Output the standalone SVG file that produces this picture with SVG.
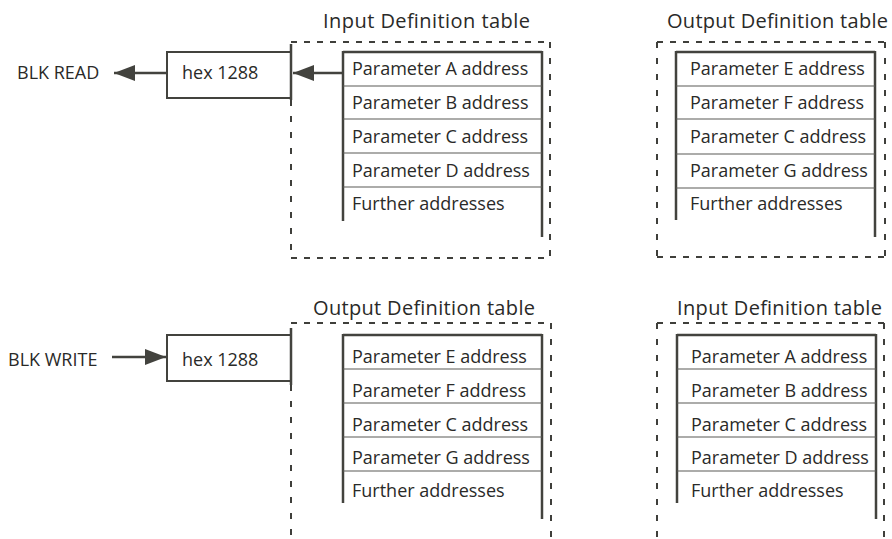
<svg xmlns="http://www.w3.org/2000/svg" width="892" height="539" viewBox="0 0 892 539">
<style>
text{font-family:"Open Sans","Liberation Sans",sans-serif;font-size:18px;fill:#2a2a28}
.title{font-size:20px}
.dh{fill:none;stroke:#3f3f3b;stroke-width:2;stroke-dasharray:6 7}
.dv{fill:none;stroke:#3f3f3b;stroke-width:2;stroke-dasharray:6 10}
.thick{fill:none;stroke:#43433e;stroke-width:2.5}
.row{fill:none;stroke:#5a5a56;stroke-width:1.2}
.box{fill:#fff;stroke:#43433e;stroke-width:2}
.conn{fill:none;stroke:#43433e;stroke-width:2.5}
</style>
<defs>
<marker id="ah" markerUnits="userSpaceOnUse" markerWidth="22" markerHeight="16" refX="21" refY="8" orient="auto">
<path d="M0,0 L21,8 L0,16 Z" fill="#43433e"/>
</marker>
</defs>

<g id="connectors">
<line class="conn" x1="167" y1="73" x2="114" y2="73" marker-end="url(#ah)"/>
<line class="conn" x1="343" y1="73" x2="293" y2="73" marker-end="url(#ah)"/>
<line class="conn" x1="112" y1="357" x2="166" y2="357" marker-end="url(#ah)"/>
</g>

<g id="blk-read">
<text x="17" y="79">BLK READ</text>
</g>
<g id="blk-write">
<text x="8" y="366">BLK WRITE</text>
</g>

<g id="hex-read">
<rect class="box" x="167" y="52" width="124" height="46"/>
<line class="thick" x1="291" y1="44" x2="291" y2="100"/>
<text x="182" y="79">hex 1288</text>
</g>
<g id="hex-write">
<rect class="box" x="167" y="335" width="124" height="46"/>
<line class="thick" x1="291" y1="328" x2="291" y2="385"/>
<text x="182" y="366">hex 1288</text>
</g>

<g id="input-table-1">
<text class="title" x="323" y="28" textLength="207">Input Definition table</text>
<line class="dh" x1="291" y1="42" x2="550" y2="42"/>
<line class="dh" x1="291" y1="258" x2="550" y2="258"/>
<line class="dv" x1="291" y1="100" x2="291" y2="258"/>
<line class="dv" x1="550" y1="42" x2="550" y2="258"/>
<line class="thick" x1="343" y1="52" x2="542" y2="52"/>
<line class="thick" x1="343" y1="51" x2="343" y2="221"/>
<line class="thick" x1="542" y1="51" x2="542" y2="237"/>
<line class="row" x1="343" y1="86" x2="542" y2="86"/>
<line class="row" x1="343" y1="119" x2="542" y2="119"/>
<line class="row" x1="343" y1="153" x2="542" y2="153"/>
<line class="row" x1="343" y1="187" x2="542" y2="187"/>
<text x="352" y="75">Parameter A address</text>
<text x="352" y="109">Parameter B address</text>
<text x="352" y="143">Parameter C address</text>
<text x="352" y="177">Parameter D address</text>
<text x="352" y="210">Further addresses</text>
</g>

<g id="output-table-1">
<text class="title" x="667" y="28" textLength="221">Output Definition table</text>
<line class="dh" x1="657" y1="42" x2="885" y2="42"/>
<line class="dh" x1="657" y1="257" x2="885" y2="257"/>
<line class="dv" x1="657" y1="42" x2="657" y2="257"/>
<line class="dv" x1="885" y1="42" x2="885" y2="257"/>
<line class="thick" x1="676" y1="52" x2="875" y2="52"/>
<line class="thick" x1="676" y1="51" x2="676" y2="220"/>
<line class="thick" x1="875" y1="51" x2="875" y2="237"/>
<line class="row" x1="676" y1="86" x2="875" y2="86"/>
<line class="row" x1="676" y1="119" x2="875" y2="119"/>
<line class="row" x1="676" y1="154" x2="875" y2="154"/>
<line class="row" x1="676" y1="188" x2="875" y2="188"/>
<text x="690" y="75">Parameter E address</text>
<text x="690" y="109">Parameter F address</text>
<text x="690" y="143">Parameter C address</text>
<text x="690" y="177">Parameter G address</text>
<text x="690" y="210">Further addresses</text>
</g>

<g id="output-table-2">
<text class="title" x="313" y="315" textLength="222">Output Definition table</text>
<line class="dh" x1="291" y1="323" x2="551" y2="323"/>
<line class="dv" x1="291" y1="385" x2="291" y2="539"/>
<line class="dv" x1="551" y1="323" x2="551" y2="539"/>
<line class="thick" x1="343" y1="335" x2="542" y2="335"/>
<line class="thick" x1="343" y1="334" x2="343" y2="503"/>
<line class="thick" x1="542" y1="334" x2="542" y2="519"/>
<line class="row" x1="343" y1="369" x2="542" y2="369"/>
<line class="row" x1="343" y1="403" x2="542" y2="403"/>
<line class="row" x1="343" y1="437" x2="542" y2="437"/>
<line class="row" x1="343" y1="471" x2="542" y2="471"/>
<text x="352" y="363">Parameter E address</text>
<text x="352" y="397">Parameter F address</text>
<text x="352" y="431">Parameter C address</text>
<text x="352" y="464">Parameter G address</text>
<text x="352" y="497">Further addresses</text>
</g>

<g id="input-table-2">
<text class="title" x="677" y="315" textLength="205">Input Definition table</text>
<line class="dh" x1="657" y1="323" x2="884" y2="323"/>
<line class="dv" x1="657" y1="323" x2="657" y2="539"/>
<line class="dv" x1="884" y1="323" x2="884" y2="539"/>
<line class="thick" x1="677" y1="335" x2="876" y2="335"/>
<line class="thick" x1="677" y1="334" x2="677" y2="503"/>
<line class="thick" x1="876" y1="334" x2="876" y2="519"/>
<line class="row" x1="677" y1="369" x2="876" y2="369"/>
<line class="row" x1="677" y1="403" x2="876" y2="403"/>
<line class="row" x1="677" y1="437" x2="876" y2="437"/>
<line class="row" x1="677" y1="471" x2="876" y2="471"/>
<text x="691" y="363">Parameter A address</text>
<text x="691" y="397">Parameter B address</text>
<text x="691" y="431">Parameter C address</text>
<text x="691" y="464">Parameter D address</text>
<text x="691" y="497">Further addresses</text>
</g>
</svg>
